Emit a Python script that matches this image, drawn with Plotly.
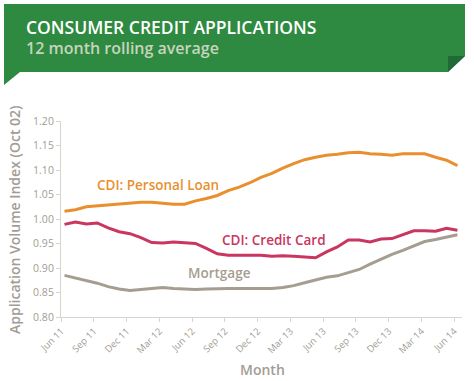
import plotly.graph_objects as go

months = ["Jun 11","Jul 11","Aug 11","Sep 11","Oct 11","Nov 11","Dec 11","Jan 12","Feb 12","Mar 12","Apr 12","May 12",
          "Jun 12","Jul 12","Aug 12","Sep 12","Oct 12","Nov 12","Dec 12","Jan 13","Feb 13","Mar 13","Apr 13","May 13",
          "Jun 13","Jul 13","Aug 13","Sep 13","Oct 13","Nov 13","Dec 13","Jan 14","Feb 14","Mar 14","Apr 14","May 14","Jun 14"]

personal_loan = [1.016,1.019,1.025,1.027,1.029,1.031,1.033,1.034,1.034,1.032,1.030,1.030,
                 1.037,1.042,1.048,1.058,1.065,1.074,1.085,1.093,1.104,1.113,1.121,1.126,
                 1.130,1.132,1.135,1.136,1.133,1.132,1.130,1.133,1.133,1.133,1.126,1.120,1.109]

credit_card = [0.989,0.994,0.990,0.992,0.982,0.974,0.970,0.962,0.952,0.951,0.953,0.951,
               0.950,0.940,0.929,0.926,0.926,0.926,0.926,0.924,0.925,0.924,0.922,0.921,
               0.933,0.943,0.957,0.957,0.953,0.959,0.960,0.968,0.976,0.976,0.975,0.981,0.977]

mortgage = [0.885,0.880,0.874,0.869,0.862,0.857,0.854,0.856,0.859,0.860,0.858,0.857,
            0.856,0.857,0.858,0.858,0.858,0.858,0.858,0.858,0.860,0.864,0.870,0.876,
            0.881,0.884,0.891,0.897,0.908,0.918,0.928,0.936,0.945,0.954,0.958,0.963,0.968]

tick_labels = months[::3]
y_ticks = [0.80,0.85,0.90,0.95,1.00,1.05,1.10,1.15,1.20]

W, H = 474, 381
ML, MR, MT, MB = 61, 12, 121, 64
PW, PH = W - ML - MR, H - MT - MB

def px(x):
    return (x - ML) / PW

def py(y):
    return (H - MB - y) / PH

x = list(range(len(months)))
tickvals = [i - 0.3 for i in range(0, len(months), 3)]

ORANGE = "#e98f2e"
CRIMSON = "#c93660"
GREY = "#a59d90"
TXT = "#a39c94"
GREEN = "#2e8a40"
DARK = "#22693a"
FONT = "Open Sans"

fig = go.Figure()
for vals, col in [(personal_loan, ORANGE), (credit_card, CRIMSON), (mortgage, GREY)]:
    fig.add_trace(go.Scatter(x=x, y=vals, mode="lines", line=dict(color=col, width=3),
                             showlegend=False, hoverinfo="skip"))

shapes = [
    dict(type="path", xref="paper", yref="paper",
         path=f"M {px(4)},{py(4)} L {px(465)},{py(4)} L {px(465)},{py(56)} L {px(448)},{py(72)} "
              f"L {px(20)},{py(72)} L {px(4)},{py(85)} Z",
         fillcolor=GREEN, line=dict(width=0), layer="above"),
    dict(type="path", xref="paper", yref="paper",
         path=f"M {px(448)},{py(56)} L {px(465)},{py(56)} L {px(448)},{py(72)} Z",
         fillcolor=DARK, line=dict(width=0), layer="above"),
]

def ann(text, xp, yp, size, color, anchor="left", angle=0, weight=600):
    return dict(text=text, x=px(xp), y=py(yp), xref="paper", yref="paper",
                xanchor=anchor, yanchor="middle", showarrow=False, textangle=angle,
                borderpad=0, font=dict(family=FONT, size=size, color=color, weight=weight))

annotations = [
    ann("CONSUMER CREDIT APPLICATIONS", 25, 27, 17.5, "white"),
    ann("12 month rolling average", 25, 48, 16, "#c6d4bd"),
    ann("CDI: Personal Loan", 96, 185, 13.5, ORANGE),
    ann("CDI: Credit Card", 221, 240, 13.5, CRIMSON),
    ann("Mortgage", 187, 273, 13.5, GREY),
    ann("Application Volume Index (Oct 02)", 14, 220, 14, TXT, anchor="center", angle=-90),
    ann("Month", 262, 369, 14, TXT, anchor="center"),
]

fig.update_layout(
    width=W, height=H, margin=dict(l=ML, r=MR, t=MT, b=MB, autoexpand=False),
    paper_bgcolor="white", plot_bgcolor="white",
    shapes=shapes, annotations=annotations,
    font=dict(family=FONT, color=TXT),
    xaxis=dict(range=[-0.32, 36.42], tickvals=tickvals, ticktext=tick_labels, tickangle=-45,
               automargin=False,
               showgrid=False, zeroline=False, showline=True, linecolor="#d8d4cf", linewidth=1,
               ticks="outside", ticklen=4, tickcolor="#d8d4cf", tickfont=dict(size=9.5, color=TXT)),
    yaxis=dict(range=[0.80, 1.20], tickvals=y_ticks, tickformat=".2f", automargin=False,
               showgrid=False, zeroline=False, showline=True, linecolor="#d8d4cf", linewidth=1,
               ticks="outside", ticklen=4, tickcolor="#d8d4cf", tickfont=dict(size=10.5, color=TXT)),
)

fig.write_html("out.html", config={"displayModeBar": False},
               post_script="document.body.style.margin='0';")
